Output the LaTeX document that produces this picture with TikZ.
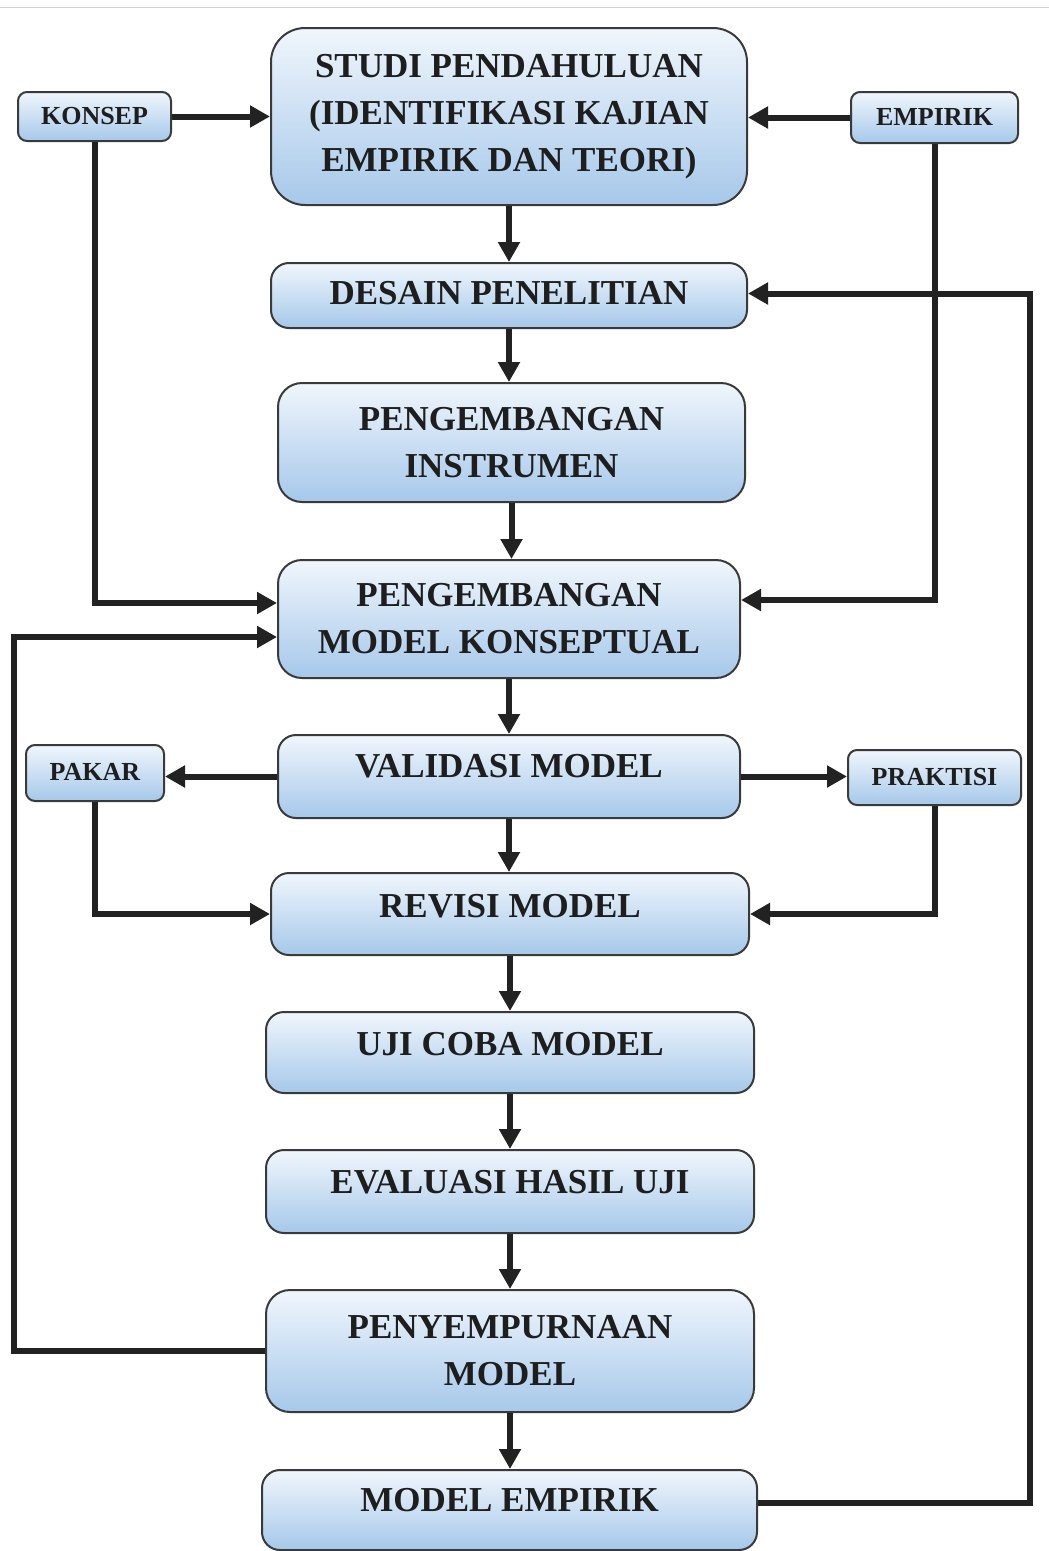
\documentclass[tikz,border=0pt]{standalone}
\usepackage{fontspec}
\setmainfont{Liberation Serif}
\usetikzlibrary{arrows.meta}

\definecolor{boxline}{HTML}{3A3A3A}
\definecolor{boxtop}{HTML}{F0F6FC}
\definecolor{boxbottom}{HTML}{A6C8EA}
\definecolor{arrowline}{HTML}{222222}
\definecolor{txt}{HTML}{1E1E1E}

\begin{document}
\begin{tikzpicture}[x=1pt, y=-1pt,
	box/.style={draw=boxline, line width=2pt, rounded corners=18pt, top color=boxtop, bottom color=boxbottom,
		inner sep=0pt, align=center, text=txt, font=\bfseries\fontsize{35}{47}\selectfont},
	oneline/.style={text height=23pt, text depth=#1},
	smallbox/.style={draw=boxline, line width=2pt, rounded corners=9pt, top color=boxtop, bottom color=boxbottom,
		inner sep=0pt, text=txt, font=\bfseries\fontsize{26}{30}\selectfont, text height=18pt, text depth=3pt},
	arr/.style={draw=arrowline, line width=6pt, -{Triangle[length=20pt, width=21pt]}},
	wire/.style={draw=arrowline, line width=6pt}]
	\useasboundingbox (0, 0) rectangle (1049, 1551);
	\draw[gray!35, line width=1pt] (0, 7) -- (1049, 7);

	\node[box, rounded corners=34pt, minimum width=476, minimum height=177] (studi) at (509, 116.5)
		{STUDI PENDAHULUAN\\(IDENTIFIKASI KAJIAN\\EMPIRIK DAN TEORI)};
	\node[box, oneline=5pt, minimum width=476, minimum height=65] (desain) at (509, 295.5) {DESAIN PENELITIAN};
	\node[box, rounded corners=24pt, minimum width=467, minimum height=119] (instrumen) at (511.5, 442.5)
		{PENGEMBANGAN\\INSTRUMEN};
	\node[box, rounded corners=24pt, minimum width=462, minimum height=118] (konseptual) at (509, 619)
		{PENGEMBANGAN\\MODEL KONSEPTUAL};
	\node[box, oneline=21pt, minimum width=462, minimum height=83] (validasi) at (509, 776.5) {VALIDASI MODEL};
	\node[box, oneline=16pt, minimum width=478, minimum height=82] (revisi) at (510, 914) {REVISI MODEL};
	\node[box, oneline=17pt, minimum width=488, minimum height=81] (ujicoba) at (510, 1052.5) {UJI COBA MODEL};
	\node[box, oneline=19pt, minimum width=488, minimum height=83] (evaluasi) at (510, 1191.5) {EVALUASI HASIL UJI};
	\node[box, rounded corners=24pt, minimum width=488, minimum height=122] (sempurna) at (510, 1351)
		{PENYEMPURNAAN\\MODEL};
	\node[box, oneline=20pt, minimum width=495, minimum height=80] (empmodel) at (509.5, 1510) {MODEL EMPIRIK};

	\node[smallbox, minimum width=153, minimum height=49] (konsep) at (94.5, 116.5) {KONSEP};
	\node[smallbox, minimum width=167, minimum height=51] (empirik) at (934.5, 117.5) {EMPIRIK};
	\node[smallbox, minimum width=138, minimum height=56] (pakar) at (95, 773) {PAKAR};
	\node[smallbox, minimum width=173, minimum height=55] (praktisi) at (934.5, 777.5) {PRAKTISI};

	\coordinate (leftrail) at (14, 0);
	\coordinate (rightrail) at (1030, 0);

	% main chain
	\foreach \a/\b in {studi/desain, desain/instrumen, instrumen/konseptual, konseptual/validasi,
		validasi/revisi, revisi/ujicoba, ujicoba/evaluasi, evaluasi/sempurna, sempurna/empmodel}
		\draw[arr] (\a.south) -- (\a.south |- \b.north);

	% inputs
	\draw[arr] (konsep.east) -- (studi.west |- konsep.east);
	\draw[arr] (empirik.west) -- (studi.east |- empirik.west);
	\draw[arr] (konsep.south) |- ([yshift=16pt]konseptual.west);
	\draw[arr] (empirik.south) |- ([yshift=19pt]konseptual.east);

	% validation
	\draw[arr] (validasi.west) -- (pakar.east |- validasi.west);
	\draw[arr] (validasi.east) -- (praktisi.west |- validasi.east);
	\draw[arr] (pakar.south) |- (revisi.west);
	\draw[arr] (praktisi.south) |- (revisi.east);

	% feedback
	\draw[arr] ([yshift=7pt]empmodel.east) -- ([yshift=7pt]empmodel.east -| rightrail) |- ([yshift=2pt]desain.east);
	\draw[arr] (sempurna.west) -- (sempurna.west -| leftrail) |- ([yshift=-18pt]konseptual.west);

\end{tikzpicture}
\end{document}
